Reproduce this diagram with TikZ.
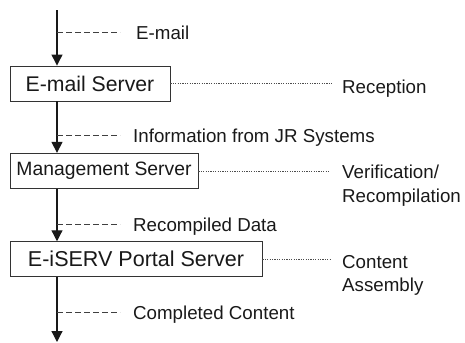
\documentclass[tikz,border=0pt]{standalone}
\usepackage{fontspec}
\setmainfont{Liberation Sans}
\usetikzlibrary{arrows.meta}
\begin{document}
\begin{tikzpicture}[x=1bp,y=-1bp,
  server/.style={draw=black!80,line width=0.9bp,fill=white,inner sep=0pt,
    minimum height=35bp,text=black!90,font=\fontsize{21.3}{25}\selectfont},
  flow/.style={draw=black!90,line width=1.2bp,-{Triangle[length=11bp,width=11bp]}},
  datalink/.style={draw=black!75,line width=0.8bp,dash pattern=on 6bp off 3bp},
  rolelink/.style={draw=black!70,line width=0.6bp,dash pattern=on 1.2bp off 1.2bp},
  datatext/.style={anchor=base west,inner sep=0pt,text=black!90,font=\fontsize{18.8}{22}\selectfont},
  roletext/.style={anchor=base west,inner sep=0pt,text=black!90,align=left,
    font=\fontsize{18.8}{23.5}\selectfont}]
\useasboundingbox (0,0) rectangle (465,342);

% servers
\node[server,minimum width=160bp] (mail) at (90,83.5) {E-mail Server};
\node[server,minimum width=188bp,font=\fontsize{19.4}{23}\selectfont] (mgmt) at (104,170.8) {Management Server};
\node[server,minimum width=252bp,font=\fontsize{21.6}{25}\selectfont] (portal) at (136,259.2) {E-iSERV Portal Server};

% ends of the main flow
\coordinate (in) at (57,10);
\coordinate (out) at (57,342);

% main flow
\draw[flow] (in) -- (in |- mail.north);
\draw[flow] (in |- mail.south) -- (in |- mgmt.north);
\draw[flow] (in |- mgmt.south) -- (in |- portal.north);
\draw[flow] (in |- portal.south) -- (out);

% data carried along each step
\coordinate (d1) at (57,32);
\coordinate (d2) at (57,135);
\coordinate (d3) at (57,224.5);
\coordinate (d4) at (57,312.7);
\foreach \d in {d1,d2,d3,d4}{
  \coordinate (\d e) at ([xshift=63bp]\d);
  \draw[datalink] (\d) -- (\d e);
}
\node[datatext] (t1) at (136,39) {E-mail};
\node[datatext] (t2) at (133,142) {Information from JR Systems};
\node[datatext] (t3) at (133,231.5) {Recompiled Data};
\node[datatext] (t4) at (133,319.5) {Completed Content};

% role of each server (multi-line nodes sit on the baseline of their last line)
\coordinate (r1) at (332,83);
\coordinate (r2) at (330,171);
\coordinate (r3) at (330,259.3);
\draw[rolelink] (mail.east |- r1) -- (r1);
\draw[rolelink] (mgmt.east |- r2) -- (r2);
\draw[rolelink] (portal.east |- r3) -- (r3);
\node[roletext] (s1) at (342,93.3) {Reception};
\node[roletext] (s2) at (342,202) {Verification/\\Recompilation};
\node[roletext] (s3) at (342,291.7) {Content\\Assembly};
\end{tikzpicture}
\end{document}
